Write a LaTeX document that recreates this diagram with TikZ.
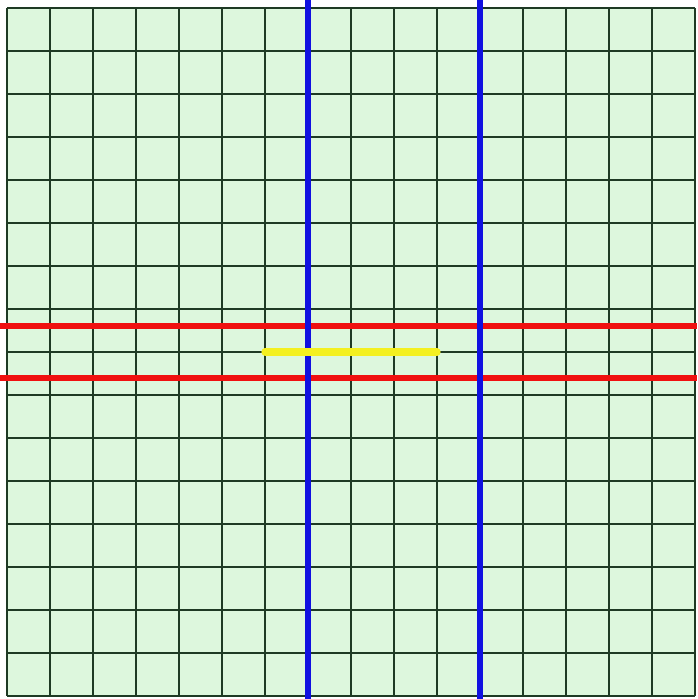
\documentclass[tikz,border=0pt]{standalone}
\usepackage{xcolor}
\definecolor{cellGreen} {HTML}{DDF7DD}
\definecolor{gridDark}  {HTML}{1E3A24}
\definecolor{cutRed}    {HTML}{F01010}
\definecolor{cutBlue}   {HTML}{1010E0}
\definecolor{segYellow} {HTML}{F4F020}
\tikzset{
  gridline/.style={draw=gridDark,line width=1.5pt},
  redline/.style={draw=cutRed,line width=3.9pt},
  blueline/.style={draw=cutBlue,line width=3.6pt},
  yellowline/.style={draw=segYellow,line width=4.8pt,line cap=round},
}
\begin{document}
\begin{tikzpicture}[x=1cm,y=1cm]

\useasboundingbox[fill=white] (-0.163,-0.07) rectangle (16.047,16.186);

\fill[cellGreen] (0,0) rectangle (16,16);
\draw[gridline] (0,0) grid (16,16);

\draw[redline] (-0.163,8.6) -- (16.047,8.6);
\draw[redline] (-0.163,7.4) -- (16.047,7.4);

\draw[blueline] (7,-0.07) -- (7,16.186);
\draw[blueline] (11,-0.07) -- (11,16.186);

\draw[yellowline] (6,8) -- (10,8);

\end{tikzpicture}
\end{document}
